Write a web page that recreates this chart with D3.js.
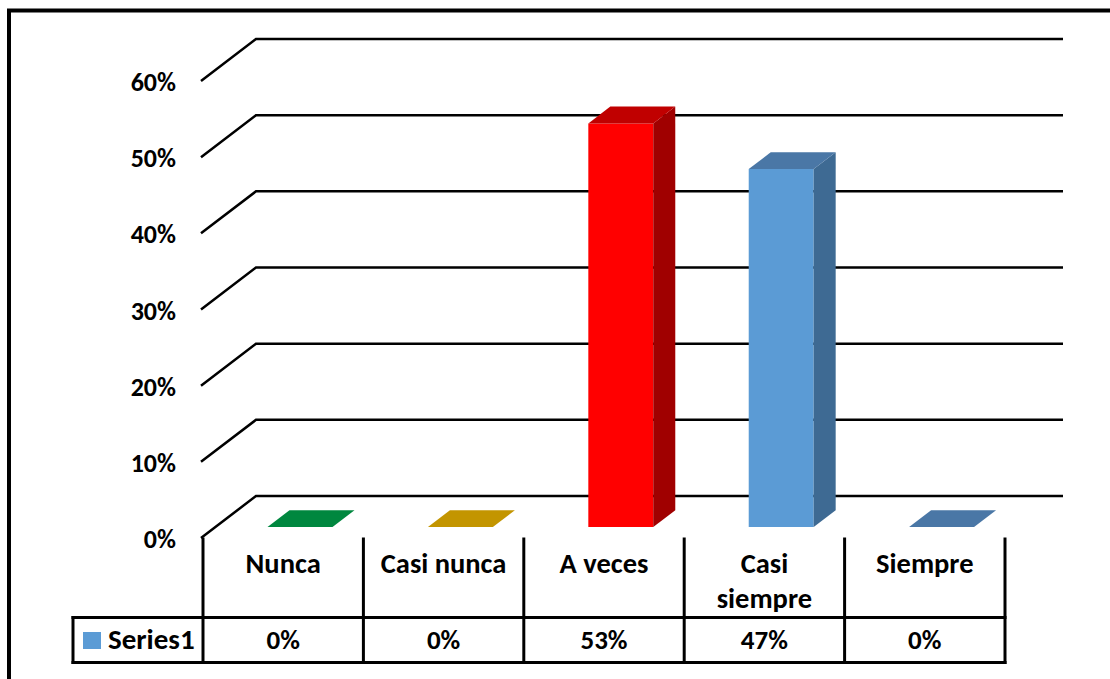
<!DOCTYPE html>
<html>
<head>
<meta charset="utf-8">
<style>
  body { margin: 0; background: #fff; }
  svg { display: block; }
  text { font-family: Carlito, Calibri, "Open Sans", sans-serif; font-weight: bold; fill: #000; }
</style>
</head>
<body>
<svg width="1110" height="679"></svg>
<script src="https://cdn.jsdelivr.net/npm/d3@7/dist/d3.min.js"></script>
<script>
// data
var categories = ["Nunca", "Casi nunca", "A veces", "Casi siempre", "Siempre"];
var labelLines = [["Nunca"], ["Casi nunca"], ["A veces"], ["Casi", "siempre"], ["Siempre"]];
var values = [0, 0, 0.53, 0.47, 0];
var tableLabels = ["0%", "0%", "53%", "47%", "0%"];
var seriesName = "Series1";
var yTicks = [0, 0.1, 0.2, 0.3, 0.4, 0.5, 0.6];

// colours per bar: front, side, top
var barColors = [
  { front: "#00a04a", side: "#006f33", top: "#00873f" },
  { front: "#e6b000", side: "#a37c00", top: "#c39500" },
  { front: "#ff0000", side: "#a00000", top: "#c00000" },
  { front: "#5b9bd5", side: "#3e6a93", top: "#4a77a6" },
  { front: "#5b9bd5", side: "#3e6a93", top: "#4a77a6" }
];

var svg = d3.select("svg");

// outer frame
svg.append("rect").attr("x", 9).attr("y", 10.5).attr("width", 1200).attr("height", 800)
  .attr("fill", "none").attr("stroke", "#000").attr("stroke-width", 4);

var x = d3.scaleBand().domain(categories).range([203, 1005]);
var y = d3.scaleLinear().domain([0, 0.6]).range([538, 81]);

// depth of the 3d box
var depthX = 55, depthY = 42;
var gridRight = 1063;
function proj(px, v, z) {
  return [px + z * depthX, y(v) - z * depthY];
}

// gridlines (diagonal on left wall + back wall line)
var grid = svg.append("g").attr("fill", "none").attr("stroke", "#000").attr("stroke-width", 2.5);
grid.selectAll("path").data(yTicks).enter().append("path")
  .attr("d", function(d) {
    var a = proj(201, d, 0), b = proj(201, d, 1);
    return "M" + a + "L" + b + "L" + [gridRight, b[1]];
  });

// y axis labels
svg.append("g").selectAll("text").data(yTicks).enter().append("text")
  .attr("x", 176).attr("y", function(d) { return y(d) + 10; })
  .attr("text-anchor", "end").attr("font-size", 26)
  .text(function(d) { return d3.format(".0%")(d); });

// 3d bars
var z0 = 0.26, z1 = 0.66;
var bw = x.bandwidth() * 0.405;
var bars = svg.append("g").selectAll("g").data(values).enter().append("g");

bars.each(function(v, i) {
  var g = d3.select(this);
  var cx = x(categories[i]) + x.bandwidth() / 2 + 2.5;
  var l = cx - bw / 2, r = cx + bw / 2;
  var c = barColors[i];
  var fl0 = proj(l, 0, z0), fr0 = proj(r, 0, z0), fl1 = proj(l, v, z0), fr1 = proj(r, v, z0);
  var bl1 = proj(l, v, z1), br1 = proj(r, v, z1), br0 = proj(r, 0, z1);
  if (v > 0) {
    g.append("path").attr("fill", c.front)
      .attr("d", "M" + fl0 + "L" + fr0 + "L" + fr1 + "L" + fl1 + "Z");
    g.append("path").attr("fill", c.side)
      .attr("d", "M" + fr0 + "L" + br0 + "L" + br1 + "L" + fr1 + "Z");
  }
  g.append("path").attr("fill", c.top)
    .attr("d", "M" + fl1 + "L" + fr1 + "L" + br1 + "L" + bl1 + "Z");
});

// data table
var tbl = svg.append("g").attr("fill", "none").attr("stroke", "#000").attr("stroke-width", 3)
  .attr("stroke-linecap", "square");
var colEdges = categories.map(function(c) { return x(c); }).concat([x.range()[1]]);
var rowTop = 538, rowMid = 617.5, rowBot = 662.5, legLeft = 73;

tbl.selectAll("line.col").data(colEdges).enter().append("line")
  .attr("x1", function(d) { return d; }).attr("x2", function(d) { return d; })
  .attr("y1", rowTop + 1).attr("y2", rowBot);
tbl.append("line").attr("x1", legLeft).attr("x2", x.range()[1]).attr("y1", rowMid).attr("y2", rowMid);
tbl.append("line").attr("x1", legLeft).attr("x2", x.range()[1]).attr("y1", rowBot).attr("y2", rowBot);
tbl.append("line").attr("x1", legLeft).attr("x2", legLeft).attr("y1", rowMid).attr("y2", rowBot);

// category labels
var catG = svg.append("g").selectAll("text").data(labelLines).enter().append("text")
  .attr("text-anchor", "middle").attr("font-size", 28.5)
  .attr("x", function(d, i) { return x(categories[i]) + x.bandwidth() / 2; })
  .attr("y", 573);
catG.selectAll("tspan").data(function(d) { return d; }).enter().append("tspan")
  .attr("x", function() { return d3.select(this.parentNode).attr("x"); })
  .attr("dy", function(d, j) { return j === 0 ? 0 : 35; })
  .text(function(d) { return d; });

// values row
svg.append("g").selectAll("text").data(tableLabels).enter().append("text")
  .attr("text-anchor", "middle").attr("font-size", 27)
  .attr("x", function(d, i) { return x(categories[i]) + x.bandwidth() / 2; })
  .attr("y", 649)
  .text(function(d) { return d; });

// legend key
svg.append("rect").attr("x", 83).attr("y", 632).attr("width", 18).attr("height", 17).attr("fill", "#5b9bd5");
svg.append("text").attr("x", 108).attr("y", 649).attr("font-size", 29).text(seriesName);
</script>
</body>
</html>
